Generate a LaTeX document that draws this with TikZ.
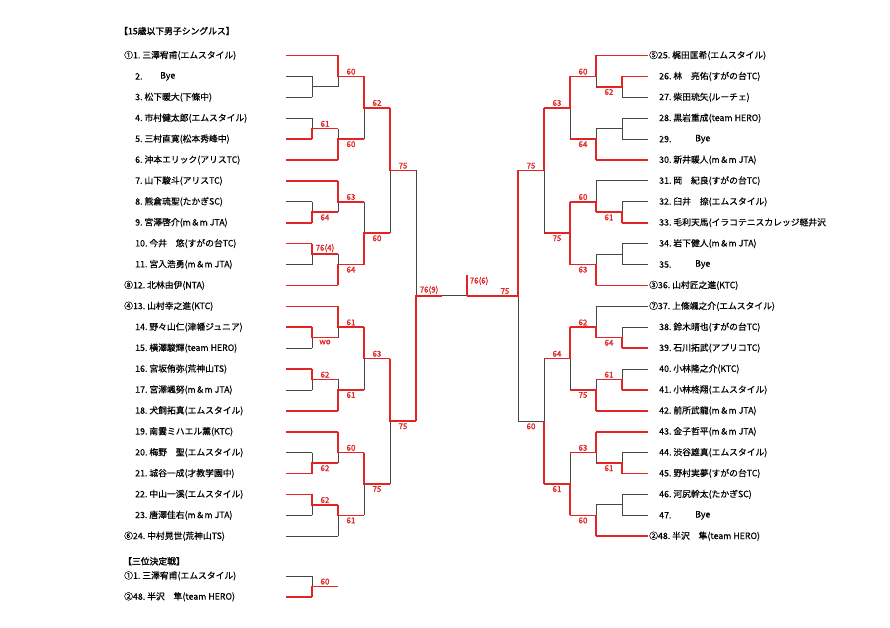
\documentclass[tikz,border=0pt]{standalone}
\usepackage{fontspec}
\setmainfont{Noto Sans CJK JP}[FakeBold=0.4]
\newfontfamily\labf{Noto Sans CJK JP}[FakeBold=1.4]
\newfontfamily\ttlf{Noto Sans CJK JP}[FakeBold=1.6]
\definecolor{wred}{RGB}{226,36,36}
\definecolor{lgray}{RGB}{70,70,70}
\begin{document}
\begin{tikzpicture}[x=1pt,y=-1pt,
  declare function={ry(\i)=55.5+20.9*(\i-1);},
  win/.style={draw=wred,line width=1.6pt},
  lose/.style={draw=lgray,line width=0.8pt},
  nm/.style={anchor=west,inner sep=0pt,font=\fontsize{8.8}{10}\selectfont},
  lab/.style={inner sep=0pt,text=wred,font=\labf\fontsize{8}{9}\selectfont},
  ttl/.style={anchor=west,inner sep=0pt,font=\ttlf\fontsize{8.8}{10}\selectfont}]
\newcommand{\MT}[5]{\draw[lose] (#1,{ry(#5)}) -- (#1,{ry(#4)}); \draw[win] (#1,{ry(#3)}) -- (#1,{ry(#5)}) -- (#2,{ry(#5)});}
\newcommand{\MB}[5]{\draw[lose] (#1,{ry(#3)}) -- (#1,{ry(#5)}); \draw[win] (#1,{ry(#4)}) -- (#1,{ry(#5)}) -- (#2,{ry(#5)});}
\newcommand{\MN}[5]{\draw[lose] (#1,{ry(#3)}) -- (#1,{ry(#4)}) (#1,{ry(#5)}) -- (#2,{ry(#5)});}
\newcommand{\LW}[3]{\draw[win] (#1,{ry(#3)}) -- (#2,{ry(#3)});}
\newcommand{\LL}[3]{\draw[lose] (#1,{ry(#3)}) -- (#2,{ry(#3)});}
\newcommand{\LA}[3]{\node[lab,anchor=south] at (#1,{ry(#2)-1.6}) {#3};}
\newcommand{\LB}[3]{\node[lab,anchor=north] at (#1,{ry(#2)+2.0}) {#3};}
\fill[white] (0,0) rectangle (890,628);
\useasboundingbox (0,0) rectangle (890,628);

% titles
\node[ttl] (title) at (119,31) {【15歳以下男子シングルス】};
\node[ttl] (title3) at (123,{ry(25.2)}) {【三位決定戦】};

% left names
\node[nm] (p1) at (124,{ry(1)}) {①1.\ 三澤宥甫(エムスタイル)};
\node[nm] (p2) at (135,{ry(2)}) {2.};
\node[nm] (p2b) at (160,{ry(2)}) {Bye};
\node[nm] (p3) at (135,{ry(3)}) {3.\ 松下暖大(下條中)};
\node[nm] (p4) at (135,{ry(4)}) {4.\ 市村健太郎(エムスタイル)};
\node[nm] (p5) at (135,{ry(5)}) {5.\ 三村直寛(松本秀峰中)};
\node[nm] (p6) at (135,{ry(6)}) {6.\ 沖本エリック(アリスTC)};
\node[nm] (p7) at (135,{ry(7)}) {7.\ 山下駿斗(アリスTC)};
\node[nm] (p8) at (135,{ry(8)}) {8.\ 熊倉琉聖(たかぎSC)};
\node[nm] (p9) at (135,{ry(9)}) {9.\ 宮澤啓介(m＆m JTA)};
\node[nm] (p10) at (135,{ry(10)}) {10.\ 今井　悠(すがの台TC)};
\node[nm] (p11) at (135,{ry(11)}) {11.\ 宮入浩勇(m＆m JTA)};
\node[nm] (p12) at (124,{ry(12)}) {⑧12.\ 北林由伊(NTA)};
\node[nm] (p13) at (124,{ry(13)}) {④13.\ 山村幸之進(KTC)};
\node[nm] (p14) at (135,{ry(14)}) {14.\ 野々山仁(津幡ジュニア)};
\node[nm] (p15) at (135,{ry(15)}) {15.\ 横澤駿輝(team HERO)};
\node[nm] (p16) at (135,{ry(16)}) {16.\ 宮坂侑弥(荒神山TS)};
\node[nm] (p17) at (135,{ry(17)}) {17.\ 宮澤颯努(m＆m JTA)};
\node[nm] (p18) at (135,{ry(18)}) {18.\ 犬飼拓真(エムスタイル)};
\node[nm] (p19) at (135,{ry(19)}) {19.\ 南雲ミハエル薫(KTC)};
\node[nm] (p20) at (135,{ry(20)}) {20.\ 梅野　聖(エムスタイル)};
\node[nm] (p21) at (135,{ry(21)}) {21.\ 城谷一成(才教学園中)};
\node[nm] (p22) at (135,{ry(22)}) {22.\ 中山一溪(エムスタイル)};
\node[nm] (p23) at (135,{ry(23)}) {23.\ 唐澤佳右(m＆m JTA)};
\node[nm] (p24) at (124,{ry(24)}) {⑥24.\ 中村晃世(荒神山TS)};
\node[nm] (t1) at (124,{ry(25.9)}) {①1.\ 三澤宥甫(エムスタイル)};
\node[nm] (t48) at (124,{ry(26.9)}) {②48.\ 半沢　隼(team HERO)};

% right names
\node[nm] (p25) at (649,{ry(1)}) {⑤25.\ 梶田匡希(エムスタイル)};
\node[nm] (p26) at (659,{ry(2)}) {26.\ 林　亮佑(すがの台TC)};
\node[nm] (p27) at (659,{ry(3)}) {27.\ 柴田琉矢(ルーチェ)};
\node[nm] (p28) at (659,{ry(4)}) {28.\ 黒岩重成(team HERO)};
\node[nm] (p29) at (659,{ry(5)}) {29.};
\node[nm] (p29b) at (695,{ry(5)}) {Bye};
\node[nm] (p30) at (659,{ry(6)}) {30.\ 新井暖人(m＆m JTA)};
\node[nm] (p31) at (659,{ry(7)}) {31.\ 岡　紀良(すがの台TC)};
\node[nm] (p32) at (659,{ry(8)}) {32.\ 臼井　捺(エムスタイル)};
\node[nm] (p33) at (659,{ry(9)}) {33.\ 毛利天馬(イラコテニスカレッジ軽井沢};
\node[nm] (p34) at (659,{ry(10)}) {34.\ 岩下健人(m＆m JTA)};
\node[nm] (p35) at (659,{ry(11)}) {35.};
\node[nm] (p35b) at (695,{ry(11)}) {Bye};
\node[nm] (p36) at (649,{ry(12)}) {③36.\ 山村匠之進(KTC)};
\node[nm] (p37) at (649,{ry(13)}) {⑦37.\ 上條颯之介(エムスタイル)};
\node[nm] (p38) at (659,{ry(14)}) {38.\ 鈴木晴也(すがの台TC)};
\node[nm] (p39) at (659,{ry(15)}) {39.\ 石川拓武(アプリコTC)};
\node[nm] (p40) at (659,{ry(16)}) {40.\ 小林隆之介(KTC)};
\node[nm] (p41) at (659,{ry(17)}) {41.\ 小林柊翔(エムスタイル)};
\node[nm] (p42) at (659,{ry(18)}) {42.\ 前所武龍(m＆m JTA)};
\node[nm] (p43) at (659,{ry(19)}) {43.\ 金子哲平(m＆m JTA)};
\node[nm] (p44) at (659,{ry(20)}) {44.\ 渋谷雄真(エムスタイル)};
\node[nm] (p45) at (659,{ry(21)}) {45.\ 野村実夢(すがの台TC)};
\node[nm] (p46) at (659,{ry(22)}) {46.\ 河尻幹太(たかぎSC)};
\node[nm] (p47) at (659,{ry(23)}) {47.};
\node[nm] (p47b) at (695,{ry(23)}) {Bye};
\node[nm] (p48) at (649,{ry(24)}) {②48.\ 半沢　隼(team HERO)};

% ---------- left leaves ----------
\LW{286}{338}{1} \LL{286}{312}{2} \LL{286}{312}{3}
\LL{286}{312}{4} \LW{286}{312}{5} \LW{286}{338}{6}
\LW{286}{338}{7} \LL{286}{312}{8} \LW{286}{312}{9}
\LW{286}{312}{10} \LL{286}{312}{11} \LW{286}{338}{12}
\LW{286}{338}{13} \LW{286}{312}{14} \LL{286}{312}{15}
\LW{286}{312}{16} \LL{286}{312}{17} \LW{286}{338}{18}
\LW{286}{338}{19} \LL{286}{312}{20} \LW{286}{312}{21}
\LW{286}{312}{22} \LL{286}{312}{23} \LL{286}{338}{24}

% ---------- left matches ----------
\MN{312}{338}{2}{3}{2.5}
\MT{338}{364}{1}{2.5}{2} \LA{351}{2}{60}
\MB{312}{338}{4}{5}{4.5} \LA{325}{4.5}{61}
\MB{338}{364}{4.5}{6}{5} \LB{351}{5}{60}
\MT{364}{390}{2}{5}{3.5} \LA{377}{3.5}{62}
\MB{312}{338}{8}{9}{8.5} \LB{325}{8.5}{64}
\MT{338}{364}{7}{8.5}{8} \LA{351}{8}{63}
\MT{312}{338}{10}{11}{10.5} \LA{325}{10.5}{76(4)}
\MB{338}{364}{10.5}{12}{11} \LB{351}{11}{64}
\MB{364}{390}{8}{11}{9.5} \LB{377}{9.5}{60}
\MT{390}{416}{3.5}{9.5}{6.5} \LA{403}{6.5}{75}
\MT{312}{338}{14}{15}{14.5} \LB{325}{14.5}{wo}
\MT{338}{364}{13}{14.5}{14} \LA{351}{14}{61}
\MT{312}{338}{16}{17}{16.5} \LA{325}{16.5}{62}
\MB{338}{364}{16.5}{18}{17} \LB{351}{17}{61}
\MT{364}{390}{14}{17}{15.5} \LA{377}{15.5}{63}
\MB{312}{338}{20}{21}{20.5} \LB{325}{20.5}{62}
\MT{338}{364}{19}{20.5}{20} \LA{351}{20}{60}
\MT{312}{338}{22}{23}{22.5} \LA{325}{22.5}{62}
\MT{338}{364}{22.5}{24}{23} \LB{351}{23}{61}
\MT{364}{390}{20}{23}{21.5} \LB{377}{21.5}{75}
\MT{390}{416}{15.5}{21.5}{18.5} \LB{403}{18.5}{75}
\MB{416}{442}{6.5}{18.5}{12.5} \LA{429}{12.5}{76(9)}

% ---------- final ----------
\draw[lose] (442,{ry(12.5)}) -- (467,{ry(12.5)});
\draw[win] (467,{ry(12.5)}) -- (467,275);
\node[lab,anchor=west] (fs) at (469.5,281) {76(6)};

% ---------- right leaves ----------
\LW{648}{596}{1} \LW{648}{622}{2} \LL{648}{622}{3}
\LL{648}{622}{4} \LL{648}{622}{5} \LW{648}{596}{6}
\LL{648}{596}{7} \LL{648}{622}{8} \LW{648}{622}{9}
\LL{648}{622}{10} \LL{648}{622}{11} \LW{648}{596}{12}
\LL{648}{596}{13} \LL{648}{622}{14} \LW{648}{622}{15}
\LL{648}{622}{16} \LW{648}{622}{17} \LW{648}{596}{18}
\LW{648}{596}{19} \LL{648}{622}{20} \LW{648}{622}{21}
\LL{648}{622}{22} \LL{648}{622}{23} \LW{648}{596}{24}

% ---------- right matches ----------
\MT{622}{596}{2}{3}{2.5} \LB{609}{2.5}{62}
\MT{596}{570}{1}{2.5}{2} \LA{583}{2}{60}
\MN{622}{596}{4}{5}{4.5}
\MB{596}{570}{4.5}{6}{5} \LB{583}{5}{64}
\MT{570}{544}{2}{5}{3.5} \LA{557}{3.5}{63}
\MB{622}{596}{8}{9}{8.5} \LB{609}{8.5}{61}
\MB{596}{570}{7}{8.5}{8} \LA{583}{8}{60}
\MN{622}{596}{10}{11}{10.5}
\MB{596}{570}{10.5}{12}{11} \LB{583}{11}{63}
\draw[win] (570,{ry(8)}) -- (570,{ry(11)});
\draw[win] (570,{ry(9.5)}) -- (544,{ry(9.5)}); \LB{557}{9.5}{75}
\MT{544}{518}{3.5}{9.5}{6.5} \LA{531}{6.5}{75}
\MB{622}{596}{14}{15}{14.5} \LB{609}{14.5}{64}
\MB{596}{570}{13}{14.5}{14} \LA{583}{14}{62}
\MB{622}{596}{16}{17}{16.5} \LA{609}{16.5}{61}
\MB{596}{570}{16.5}{18}{17} \LB{583}{17}{75}
\MT{570}{544}{14}{17}{15.5} \LA{557}{15.5}{64}
\MB{622}{596}{20}{21}{20.5} \LB{609}{20.5}{61}
\MT{596}{570}{19}{20.5}{20} \LA{583}{20}{63}
\MN{622}{596}{22}{23}{22.5}
\MB{596}{570}{22.5}{24}{23} \LB{583}{23}{60}
\MB{570}{544}{20}{23}{21.5} \LB{557}{21.5}{61}
\draw[lose] (544,{ry(15.5)}) -- (544,{ry(18.5)}) -- (518,{ry(18.5)});
\draw[win] (544,{ry(21.5)}) -- (544,{ry(18.5)}); \LB{531}{18.5}{60}
\MT{518}{467}{6.5}{18.5}{12.5} \LA{505}{12.5}{75}

% ---------- third place ----------
\LL{286}{312}{25.9}
\LW{286}{312}{26.9}
\MB{312}{338}{25.9}{26.9}{26.4} \LA{325}{26.4}{60}
\end{tikzpicture}
\end{document}
